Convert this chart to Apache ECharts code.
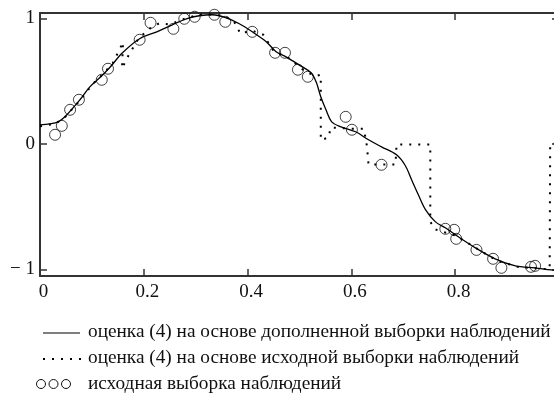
<!DOCTYPE html>
<html>
<head>
<meta charset="utf-8">
<script src="https://cdn.jsdelivr.net/npm/echarts@6/dist/echarts.min.js"></script>
<style>html,body{margin:0;padding:0;background:#fff}#c{width:554px;height:394px}</style>
</head>
<body>
<div id="c"></div>
<script>
// Solid curve: estimate (4) on the augmented sample
const solidX = [0, 0.019, 0.035, 0.048, 0.077, 0.096, 0.115, 0.134, 0.159, 0.192, 0.225, 0.255, 0.282, 0.307, 0.332, 0.359, 0.384, 0.409, 0.436, 0.455, 0.474, 0.499, 0.522, 0.532, 0.541, 0.551, 0.562, 0.580, 0.608, 0.633, 0.658, 0.687, 0.704, 0.716, 0.729, 0.743, 0.762, 0.781, 0.806, 0.839, 0.877, 0.916, 0.954, 0.985, 1.0];
const solidY = [0.151, 0.159, 0.175, 0.215, 0.351, 0.454, 0.526, 0.606, 0.725, 0.837, 0.892, 0.948, 0.996, 1.020, 1.028, 1.004, 0.956, 0.892, 0.813, 0.733, 0.693, 0.629, 0.566, 0.494, 0.375, 0.271, 0.175, 0.135, 0.096, 0.032, -0.024, -0.088, -0.175, -0.287, -0.406, -0.526, -0.622, -0.669, -0.741, -0.829, -0.916, -0.972, -0.988, -1.004, -1.008];

// Dotted curve: estimate (4) on the original sample
const dotX = [0, 0.03, 0.05, 0.08, 0.10, 0.12, 0.14, 0.160, 0.158, 0.17, 0.19, 0.215, 0.23, 0.25, 0.28, 0.31, 0.34, 0.37, 0.38, 0.385, 0.41, 0.43, 0.45, 0.48, 0.51, 0.53, 0.541, 0.541, 0.556, 0.560, 0.60, 0.624, 0.630, 0.633, 0.685, 0.687, 0.752, 0.752, 0.76, 0.80, 0.84, 0.88, 0.92, 0.95, 0.982, 0.983, 1.0];
const dotY = [0.14, 0.16, 0.22, 0.36, 0.47, 0.55, 0.64, 0.81, 0.60, 0.70, 0.84, 0.93, 0.96, 0.95, 1.00, 1.03, 1.03, 0.99, 0.94, 0.88, 0.90, 0.87, 0.74, 0.68, 0.58, 0.54, 0.55, 0.03, 0.05, 0.13, 0.12, 0.12, -0.02, -0.165, -0.165, -0.005, -0.005, -0.62, -0.68, -0.73, -0.83, -0.93, -0.98, -0.99, -1.00, 0.0, 0.0];

// Circles: original observations
const obsX = [0.029, 0.042, 0.058, 0.075, 0.119, 0.131, 0.192, 0.213, 0.257, 0.278, 0.298, 0.336, 0.357, 0.409, 0.453, 0.472, 0.497, 0.516, 0.589, 0.601, 0.658, 0.781, 0.798, 0.802, 0.841, 0.873, 0.889, 0.946, 0.954];
const obsY = [0.072, 0.143, 0.271, 0.351, 0.510, 0.598, 0.829, 0.964, 0.916, 0.996, 1.012, 1.028, 0.972, 0.892, 0.725, 0.725, 0.590, 0.534, 0.215, 0.112, -0.167, -0.677, -0.685, -0.757, -0.845, -0.916, -0.988, -0.980, -0.972];

const xTickLabels = ['0', '0.2', '0.4', '0.6', '0.8', ''];
const yTicks = [-1, 0, 1];
const yTickLabels = ['\u2212 1', '0', '1'];

const legendLabels = [
  'оценка (4) на основе дополненной выборки наблюдений',
  'оценка (4) на основе исходной выборки наблюдений',
  'исходная выборка наблюдений'
];

const zip = (a, b) => a.map((v, i) => [v, b[i]]);
const FONT = '"Liberation Serif", "Times New Roman", serif';
const FS = 19;
const LFS = 19.3;
const frame = { show: true, onZero: false, lineStyle: { color: '#333', width: 2 } };
const tick = { show: true, inside: true, length: 7, lineStyle: { color: '#333', width: 1.5 } };

const chart = echarts.init(document.getElementById('c'), null, { renderer: 'canvas' });
const opt = {
  animation: false,
  backgroundColor: '#fff',
  grid: { left: 40, top: 13, width: 519, height: 263, containLabel: false, outerBoundsMode: 'none' },
  xAxis: [
    { type: 'value', position: 'bottom', min: 0, max: 1, interval: 0.2,
      axisLine: frame, splitLine: { show: false }, axisTick: tick,
      axisLabel: { margin: 7, padding: [0, 0, 0, 7], color: '#111', fontFamily: FONT, fontSize: FS, showMaxLabel: false,
        formatter: v => xTickLabels[Math.round(v / 0.2)] || '' } },
    { type: 'value', position: 'top', min: 0, max: 1, interval: 0.2,
      axisLine: frame, splitLine: { show: false }, axisTick: tick,
      axisLabel: { show: false } }
  ],
  yAxis: [
    { type: 'value', position: 'left', min: -1.053, max: 1.042,
      axisLine: frame, splitLine: { show: false },
      axisTick: Object.assign({}, tick, { customValues: yTicks }),
      axisLabel: { customValues: yTicks, margin: 5, padding: [5, 0, 0, 0], color: '#111', fontFamily: FONT, fontSize: FS,
        formatter: v => { const i = yTicks.findIndex(t => Math.abs(t - v) < 1e-9); return i >= 0 ? yTickLabels[i] : ''; } } },
    { type: 'value', position: 'right', min: -1.053, max: 1.042,
      axisLine: frame, splitLine: { show: false },
      axisTick: Object.assign({}, tick, { customValues: yTicks }),
      axisLabel: { show: false } }
  ],
  series: [
    { name: legendLabels[0], type: 'line', data: zip(solidX, solidY), showSymbol: false, smooth: 0.35,
      clip: true, lineStyle: { color: '#000', width: 1.3 } },
    { name: legendLabels[1], type: 'line', data: zip(dotX, dotY), showSymbol: false, smooth: false,
      clip: true, lineStyle: { color: '#000', width: 2, type: [2, 7] } },
    { name: legendLabels[2], type: 'scatter', data: zip(obsX, obsY), symbol: 'circle', symbolSize: 11,
      itemStyle: { color: 'rgba(0,0,0,0)', borderColor: '#111', borderWidth: 1 } }
  ],
  graphic: [
    { type: 'line', shape: { x1: 43, y1: 333, x2: 80, y2: 333 }, style: { stroke: '#000', lineWidth: 1.2 } },
    { type: 'line', shape: { x1: 43, y1: 359, x2: 82, y2: 359 }, style: { stroke: '#000', lineWidth: 2, lineDash: [2, 7] } },
    { type: 'circle', shape: { cx: 41, cy: 384, r: 4.5 }, style: { fill: 'none', stroke: '#111', lineWidth: 1 } },
    { type: 'circle', shape: { cx: 53.5, cy: 384, r: 4.5 }, style: { fill: 'none', stroke: '#111', lineWidth: 1 } },
    { type: 'circle', shape: { cx: 66, cy: 384, r: 4.5 }, style: { fill: 'none', stroke: '#111', lineWidth: 1 } },
    { type: 'text', x: 88, y: 332, style: { text: legendLabels[0], font: LFS + 'px ' + FONT, fill: '#111', verticalAlign: 'middle' } },
    { type: 'text', x: 88, y: 358, style: { text: legendLabels[1], font: LFS + 'px ' + FONT, fill: '#111', verticalAlign: 'middle' } },
    { type: 'text', x: 88, y: 384, style: { text: legendLabels[2], font: LFS + 'px ' + FONT, fill: '#111', verticalAlign: 'middle' } }
  ]
};
chart.setOption(opt);
</script>
</body>
</html>
